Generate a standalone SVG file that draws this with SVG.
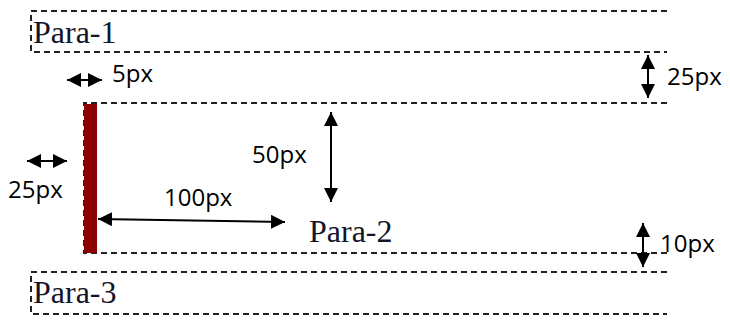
<svg xmlns="http://www.w3.org/2000/svg" width="730" height="320" viewBox="0 0 730 320">
<style>
.box{fill:none;stroke:#222;stroke-width:2;stroke-dasharray:6 4}
.para{font-family:"Liberation Serif","Times New Roman",serif;font-size:32px;fill:#141428}
.lbl{font-family:"Open Sans","Liberation Sans",sans-serif;font-size:24px;fill:#000}
.arr{stroke:#000;stroke-width:2;fill:none;marker-start:url(#ah);marker-end:url(#ah)}
</style>
<defs>
<marker id="ah" viewBox="0 0 10 10" refX="10" refY="5" markerWidth="7" markerHeight="7" orient="auto-start-reverse">
<path d="M0,0 L10,5 L0,10 z" fill="#000"/>
</marker>
</defs>
<rect width="730" height="320" fill="#fff"/>
<g id="para1">
<path class="box" d="M667,11 H31 V52 H667"/>
<text class="para" x="33" y="43">Para-1</text>
</g>
<g id="para2">
<path class="box" d="M667,103 H84 V253 H667"/>
<rect x="84" y="104" width="13" height="149" fill="#8b0000"/>
<text class="para" x="309" y="242">Para-2</text>
</g>
<g id="para3">
<path class="box" d="M667,272 H31 V314 H667"/>
<text class="para" x="33" y="303">Para-3</text>
</g>
<g id="connectors">
<line class="arr" x1="67" y1="80" x2="102" y2="80"/>
<line class="arr" x1="648" y1="55" x2="648" y2="98"/>
<line class="arr" x1="27" y1="161" x2="67" y2="161"/>
<line class="arr" x1="98" y1="219" x2="285" y2="222"/>
<line class="arr" x1="331" y1="112" x2="331" y2="202"/>
<line class="arr" x1="643" y1="223" x2="643" y2="267"/>
</g>
<g id="labels">
<text class="lbl" x="112" y="82">5px</text>
<text class="lbl" x="667" y="85">25px</text>
<text class="lbl" x="8" y="198">25px</text>
<text class="lbl" x="164" y="206">100px</text>
<text class="lbl" x="252" y="163">50px</text>
<text class="lbl" x="660" y="252">10px</text>
</g>
</svg>
